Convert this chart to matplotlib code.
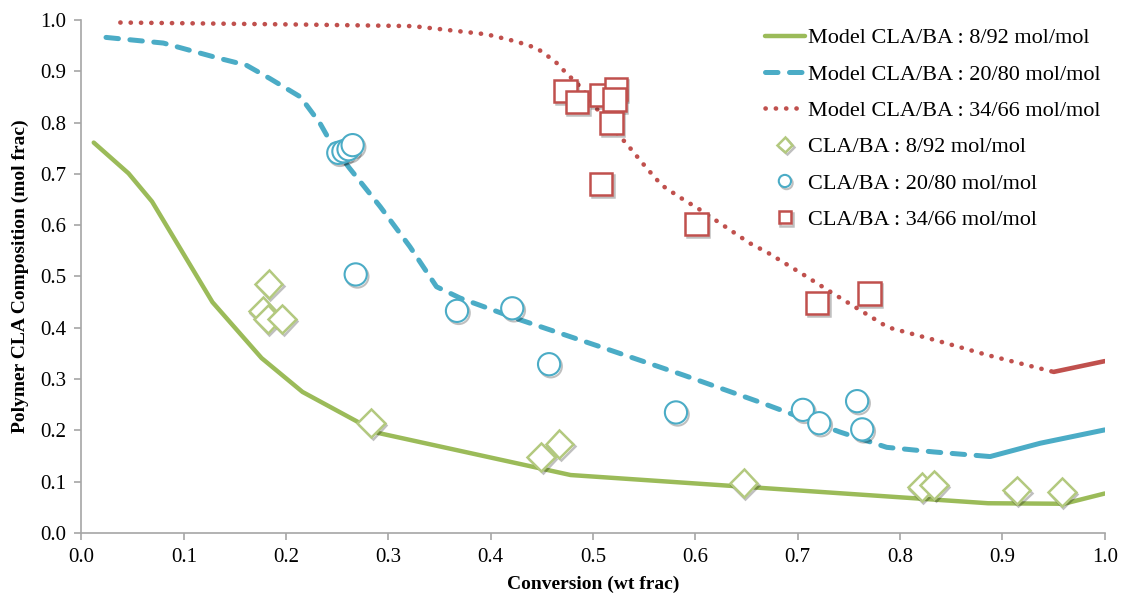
import matplotlib
matplotlib.use('Agg')
import matplotlib.pyplot as plt
import matplotlib.patheffects as pe

plt.rcParams['font.family'] = ['Liberation Serif', 'DejaVu Serif']

# Model curves (conversion, polymer CLA fraction)
m8_x = [0.012, 0.046, 0.069, 0.097, 0.128, 0.176, 0.216, 0.290, 0.478, 0.886, 0.960, 1.0]
m8_y = [0.761, 0.701, 0.646, 0.553, 0.450, 0.341, 0.275, 0.195, 0.113, 0.058, 0.057, 0.077]

m20_x = [0.024, 0.080, 0.135, 0.161, 0.184, 0.214, 0.233, 0.246, 0.262, 0.292, 0.321,
         0.347, 0.370, 0.425, 0.507, 0.588, 0.663, 0.741, 0.787, 0.833, 0.888, 0.937, 1.0]
m20_y = [0.966, 0.955, 0.925, 0.912, 0.886, 0.850, 0.799, 0.753, 0.711, 0.636, 0.558,
         0.480, 0.458, 0.418, 0.363, 0.308, 0.255, 0.197, 0.167, 0.158, 0.149, 0.175, 0.201]
m20_split = 20  # index where the curve turns solid

m34_x = [0.038, 0.218, 0.324, 0.360, 0.396, 0.425, 0.445, 0.463, 0.474, 0.489, 0.502,
         0.519, 0.533, 0.552, 0.567, 0.585, 0.603, 0.627, 0.653, 0.671, 0.706, 0.732,
         0.758, 0.788, 0.836, 0.885, 0.950, 1.0]
m34_y = [0.995, 0.991, 0.988, 0.980, 0.972, 0.958, 0.945, 0.919, 0.896, 0.867, 0.831,
         0.789, 0.758, 0.712, 0.678, 0.654, 0.632, 0.600, 0.565, 0.546, 0.503, 0.470,
         0.438, 0.401, 0.375, 0.347, 0.314, 0.335]
m34_split = 26

# Experimental points
e8_x = [0.183, 0.177, 0.182, 0.196, 0.283, 0.449, 0.467, 0.647, 0.821, 0.833, 0.914, 0.958]
e8_y = [0.485, 0.433, 0.417, 0.417, 0.214, 0.148, 0.173, 0.097, 0.090, 0.094, 0.083, 0.080]

e20_x = [0.251, 0.256, 0.261, 0.265, 0.268, 0.367, 0.421, 0.457, 0.581, 0.705, 0.721, 0.758, 0.763]
e20_y = [0.741, 0.744, 0.748, 0.756, 0.504, 0.433, 0.438, 0.329, 0.235, 0.240, 0.214, 0.257, 0.202]

e34_x = [0.473, 0.484, 0.508, 0.522, 0.521, 0.518, 0.508, 0.601, 0.719, 0.770]
e34_y = [0.861, 0.840, 0.854, 0.865, 0.845, 0.799, 0.680, 0.602, 0.448, 0.467]

labels = ['Model CLA/BA : 8/92 mol/mol', 'Model CLA/BA : 20/80 mol/mol',
          'Model CLA/BA : 34/66 mol/mol', 'CLA/BA : 8/92 mol/mol',
          'CLA/BA : 20/80 mol/mol', 'CLA/BA : 34/66 mol/mol']

green = '#9BBB59'
blue = '#4BACC6'
red = '#C0504D'

fig = plt.figure(figsize=(11.25, 6.05), dpi=100)
ax = fig.add_axes([0.0724, 0.119, 0.9096, 0.848])

ax.plot(m8_x, m8_y, color=green, lw=3.2, solid_capstyle='round', label=labels[0])
ax.plot(m20_x[:m20_split + 1], m20_y[:m20_split + 1], color=blue, lw=3.6,
        dashes=(2.5, 2.3), dash_capstyle='round', label=labels[1])
ax.plot(m20_x[m20_split:], m20_y[m20_split:], color=blue, lw=3.6, solid_capstyle='round')
ax.plot(m34_x[:m34_split + 1], m34_y[:m34_split + 1], color=red, lw=3.3,
        dashes=(0.05, 2.2), dash_capstyle='round', label=labels[2])
ax.plot(m34_x[m34_split:], m34_y[m34_split:], color=red, lw=3.3, solid_capstyle='round')

shadow = [pe.SimpleLineShadow(offset=(1.2, -1.5), shadow_color='black', alpha=0.25), pe.Normal()]
ax.plot(e8_x, e8_y, ls='none', marker='D', ms=14, mfc='white', mec='#B3C97F', mew=1.8,
        label=labels[3], path_effects=shadow)
ax.plot(e20_x, e20_y, ls='none', marker='o', ms=16, mfc='white', mec=blue, mew=1.5,
        label=labels[4], path_effects=shadow)
ax.plot(e34_x, e34_y, ls='none', marker='s', ms=16, mfc='white', mec=red, mew=1.8,
        label=labels[5], path_effects=shadow)

ax.set_xlim(0, 1.0)
ax.set_ylim(0, 1.0)
ax.set_xticks([i / 10 for i in range(11)])
ax.set_yticks([i / 10 for i in range(11)])
ax.xaxis.set_major_formatter(plt.FormatStrFormatter('%.1f'))
ax.yaxis.set_major_formatter(plt.FormatStrFormatter('%.1f'))
for s in ['top', 'right']:
    ax.spines[s].set_visible(False)
for s in ['left', 'bottom']:
    ax.spines[s].set_color('#A6A6A6')
    ax.spines[s].set_linewidth(1.2)
ax.tick_params(direction='out', length=5, width=1.2, color='#A6A6A6', labelsize=15, pad=6)

ax.set_xlabel('Conversion (wt frac)', fontsize=14, fontweight='bold', labelpad=6)
ax.set_ylabel('Polymer CLA Composition (mol frac)', fontsize=14, fontweight='bold', labelpad=8)

leg = ax.legend(loc='upper left', bbox_to_anchor=(756 / 1125, 1 - 19 / 605),
                bbox_transform=fig.transFigure, frameon=False, fontsize=16,
                handlelength=1.8, handletextpad=0.15, labelspacing=0.71,
                markerscale=0.55, borderaxespad=0)

fig.savefig('out.png', dpi=100)
